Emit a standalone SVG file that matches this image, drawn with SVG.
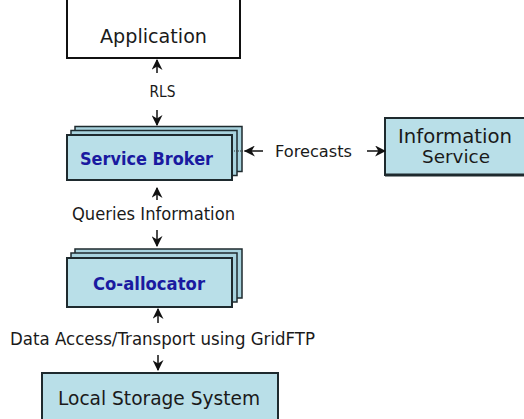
<svg xmlns="http://www.w3.org/2000/svg" width="524" height="419" viewBox="0 0 524 419">
<style>
.box{fill:#b9dfe8;stroke:#1e2a2e;stroke-width:2}
.back{fill:#a8d3de;stroke:#1e2a2e;stroke-width:1.5}
.lbl{font-family:"DejaVu Sans","Liberation Sans",sans-serif;fill:#1a1a1a}
.blue{font-family:"DejaVu Sans","Liberation Sans",sans-serif;font-weight:bold;fill:#1a1aa0}
.ln{stroke:#111;stroke-width:1.5;fill:none}
</style>
<defs>
<marker id="ah" viewBox="0 0 10 10" refX="9" refY="5" markerWidth="11" markerHeight="11" orient="auto" markerUnits="userSpaceOnUse">
<path d="M0,0 L10,5 L0,10 L3,5 Z" fill="#111"/>
</marker>
</defs>
<rect width="524" height="419" fill="#fff"/>
<g id="application">
<path d="M67,0 V58 H240 V0" fill="none" stroke="#111" stroke-width="2"/>
<text class="lbl" x="153.5" y="43" font-size="19" text-anchor="middle" textLength="107" lengthAdjust="spacingAndGlyphs">Application</text>
</g>
<g id="service-broker">
<rect class="back" x="75" y="126.5" width="167" height="45"/>
<rect class="back" x="71" y="130.5" width="166" height="45"/>
<rect class="box" x="67" y="135" width="165" height="45"/>
<text class="blue" x="146.5" y="165" font-size="17" text-anchor="middle" textLength="133" lengthAdjust="spacingAndGlyphs">Service Broker</text>
</g>
<g id="information-service">
<rect class="box" x="385" y="118" width="142" height="57"/>
<line x1="385" y1="175" x2="524" y2="175" stroke="#1e2a2e" stroke-width="3"/>
<text class="lbl" x="455" y="143" font-size="19" text-anchor="middle" textLength="114" lengthAdjust="spacingAndGlyphs">Information</text>
<text class="lbl" x="456" y="163" font-size="17" text-anchor="middle" textLength="68" lengthAdjust="spacingAndGlyphs">Service</text>
</g>
<g id="co-allocator">
<rect class="back" x="75" y="249" width="167" height="49"/>
<rect class="back" x="71" y="253" width="166" height="49"/>
<rect class="box" x="67" y="258" width="165" height="49"/>
<text class="blue" x="149" y="290" font-size="17.5" text-anchor="middle" textLength="112" lengthAdjust="spacingAndGlyphs">Co-allocator</text>
</g>
<g id="local-storage">
<rect class="box" x="42" y="373" width="236" height="50"/>
<text class="lbl" x="159" y="405" font-size="20" text-anchor="middle" textLength="202" lengthAdjust="spacingAndGlyphs">Local Storage System</text>
</g>
<g id="connectors">
<line class="ln" x1="157" y1="73" x2="157" y2="60" marker-end="url(#ah)"/>
<text class="lbl" x="162.5" y="97" font-size="15" text-anchor="middle" textLength="26" lengthAdjust="spacingAndGlyphs">RLS</text>
<line class="ln" x1="157" y1="110" x2="157" y2="125" marker-end="url(#ah)"/>
<line x1="234" y1="151" x2="248" y2="151" stroke="#333" stroke-width="1" stroke-dasharray="1,1"/>
<line class="ln" x1="263" y1="151" x2="245" y2="151" marker-end="url(#ah)"/>
<text class="lbl" x="313.5" y="157" font-size="16" text-anchor="middle" textLength="77" lengthAdjust="spacingAndGlyphs">Forecasts</text>
<line class="ln" x1="367" y1="151" x2="385" y2="151" marker-end="url(#ah)"/>
<line class="ln" x1="157" y1="200" x2="157" y2="188" marker-end="url(#ah)"/>
<text class="lbl" x="153.5" y="220" font-size="17.5" text-anchor="middle" textLength="163" lengthAdjust="spacingAndGlyphs">Queries Information</text>
<line class="ln" x1="157" y1="230" x2="157" y2="246" marker-end="url(#ah)"/>
<line class="ln" x1="158" y1="323" x2="158" y2="309" marker-end="url(#ah)"/>
<text class="lbl" x="162.5" y="345" font-size="17" text-anchor="middle" textLength="305" lengthAdjust="spacingAndGlyphs">Data Access/Transport using GridFTP</text>
<line class="ln" x1="158" y1="355" x2="158" y2="370" marker-end="url(#ah)"/>
</g>
</svg>
